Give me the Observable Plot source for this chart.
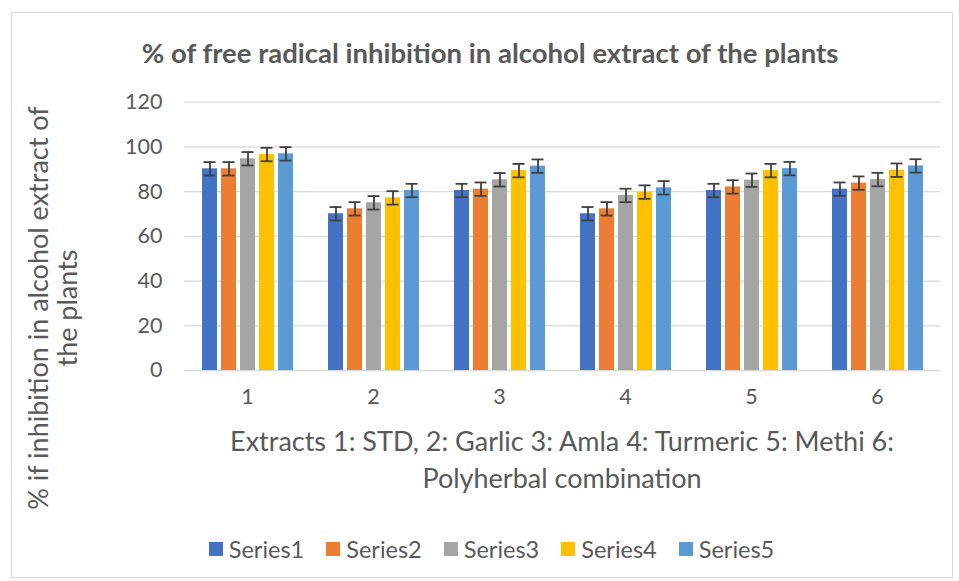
<!DOCTYPE html>
<html><head><meta charset="utf-8">
<script src="https://cdn.jsdelivr.net/npm/d3@7"></script>
<script src="https://cdn.jsdelivr.net/npm/@observablehq/plot@0.6"></script>
<style>
body{margin:0;background:#fff;font-family:Lato,"Open Sans",sans-serif;}
#wrap{position:relative;width:959px;height:581px;overflow:hidden;background:#fff}
#frame{position:absolute;left:11px;top:12px;width:942px;height:566px;border:1px solid #d9d9d9;box-sizing:border-box}
#chart{position:absolute;left:0;top:0}
#title{position:absolute;left:0;width:980px;top:36px;text-align:center;font-weight:bold;font-size:27.5px;color:#595959;white-space:nowrap}
#ylab{position:absolute;left:52px;top:308px;width:520px;transform:translate(-50%,-50%) rotate(-90deg);text-align:center;font-size:27px;line-height:29px;color:#595959;white-space:nowrap}
#xlab{position:absolute;left:562px;top:459px;width:760px;transform:translate(-50%,-50%);text-align:center;font-size:27px;line-height:37px;color:#595959;white-space:nowrap}
#legend{position:absolute;left:0;width:983px;top:535px;display:flex;justify-content:center;gap:22px;font-size:23.5px;color:#595959}
#legend .item{display:flex;align-items:center;gap:6px}
#legend .sw{width:14px;height:14px;display:inline-block}
</style></head>
<body>
<div id="wrap">
  <div id="frame"></div>
  <div id="chart"></div>
  <div id="title"></div>
  <div id="ylab"></div>
  <div id="xlab"></div>
  <div id="legend"></div>
</div>
<script>
const titleText = "% of free radical inhibition in alcohol extract of the plants";
const yLabelLines = ["% if inhibition in alcohol extract of", "the plants"];
const xLabelLines = ["Extracts 1: STD, 2: Garlic 3: Amla 4: Turmeric 5: Methi 6:", "Polyherbal combination"];
const extracts = [1, 2, 3, 4, 5, 6];
const seriesNames = ["Series1", "Series2", "Series3", "Series4", "Series5"];
const seriesColors = ["#4472C4", "#ED7D31", "#A5A5A5", "#FFC000", "#5B9BD5"];
const yTicks = [0, 20, 40, 60, 80, 100, 120];
const series1 = [90.2, 70.1, 80.5, 70.1, 80.5, 81.1];
const series2 = [90.2, 72.3, 81.1, 72.3, 82.1, 83.8];
const series3 = [94.7, 75.0, 85.3, 78.3, 85.1, 85.4];
const series4 = [96.6, 77.2, 89.4, 79.8, 89.4, 89.6];
const series5 = [96.9, 80.5, 91.4, 81.7, 90.3, 91.5];
const errors1 = [3, 3, 3, 3, 3, 3];
const errors2 = [3, 3, 3, 3, 3, 3];
const errors3 = [3, 3, 3, 3, 3, 3];
const errors4 = [3, 3, 3, 3, 3, 3];
const errors5 = [3, 3, 3, 3, 3, 3];

const values = [series1, series2, series3, series4, series5];
const errors = [errors1, errors2, errors3, errors4, errors5];
const rows = [];
seriesNames.forEach((s, i) => extracts.forEach((e, j) => rows.push({extract: e, series: s, value: values[i][j], error: errors[i][j]})));

const chart = Plot.plot({
  width: 959, height: 581,
  marginTop: 101.7, marginBottom: 211, marginLeft: 183, marginRight: 18,
  style: {fontFamily: "Lato, 'Open Sans', sans-serif", fontSize: "21.5px", color: "#595959", background: "transparent"},
  fx: {domain: extracts, padding: 0, label: null, axis: null},
  x: {domain: seriesNames, paddingInner: 0.23, paddingOuter: 0.855, axis: null},
  y: {domain: [0, 120], axis: null},
  color: {domain: seriesNames, range: seriesColors},
  marks: [
    Plot.ruleY(yTicks, {stroke: "#d9d9d9", strokeWidth: 1.3}),
    Plot.axisY(yTicks, {anchor: "left", facetAnchor: "left", tickSize: 0, tickPadding: 22, label: null, fill: "#595959"}),
    Plot.axisFx({anchor: "bottom", tickSize: 0, tickPadding: 18, label: null, fill: "#595959"}),
    Plot.barY(rows, {fx: "extract", x: "series", y: "value", fill: "series"}),
    Plot.ruleX(rows, {fx: "extract", x: "series", y1: d => d.value - d.error, y2: d => d.value + d.error, stroke: "#404040", strokeWidth: 1.8}),
    Plot.tickY(rows, {fx: "extract", x: "series", y: d => d.value + d.error, stroke: "#404040", strokeWidth: 1.8, insetLeft: 1.5, insetRight: 1.5}),
    Plot.tickY(rows, {fx: "extract", x: "series", y: d => d.value - d.error, stroke: "#404040", strokeWidth: 1.8, insetLeft: 1.5, insetRight: 1.5})
  ]
});
document.getElementById("chart").appendChild(chart);
document.getElementById("title").textContent = titleText;
document.getElementById("ylab").innerHTML = yLabelLines.map(t => `<div>${t}</div>`).join("");
document.getElementById("xlab").innerHTML = xLabelLines.map(t => `<div>${t}</div>`).join("");
const legend = document.getElementById("legend");
seriesNames.forEach((s, i) => {
  const item = document.createElement("div");
  item.className = "item";
  const sw = document.createElement("span");
  sw.className = "sw";
  sw.style.background = seriesColors[i];
  const label = document.createElement("span");
  label.textContent = s;
  item.appendChild(sw); item.appendChild(label);
  legend.appendChild(item);
});
</script>
</body></html>
